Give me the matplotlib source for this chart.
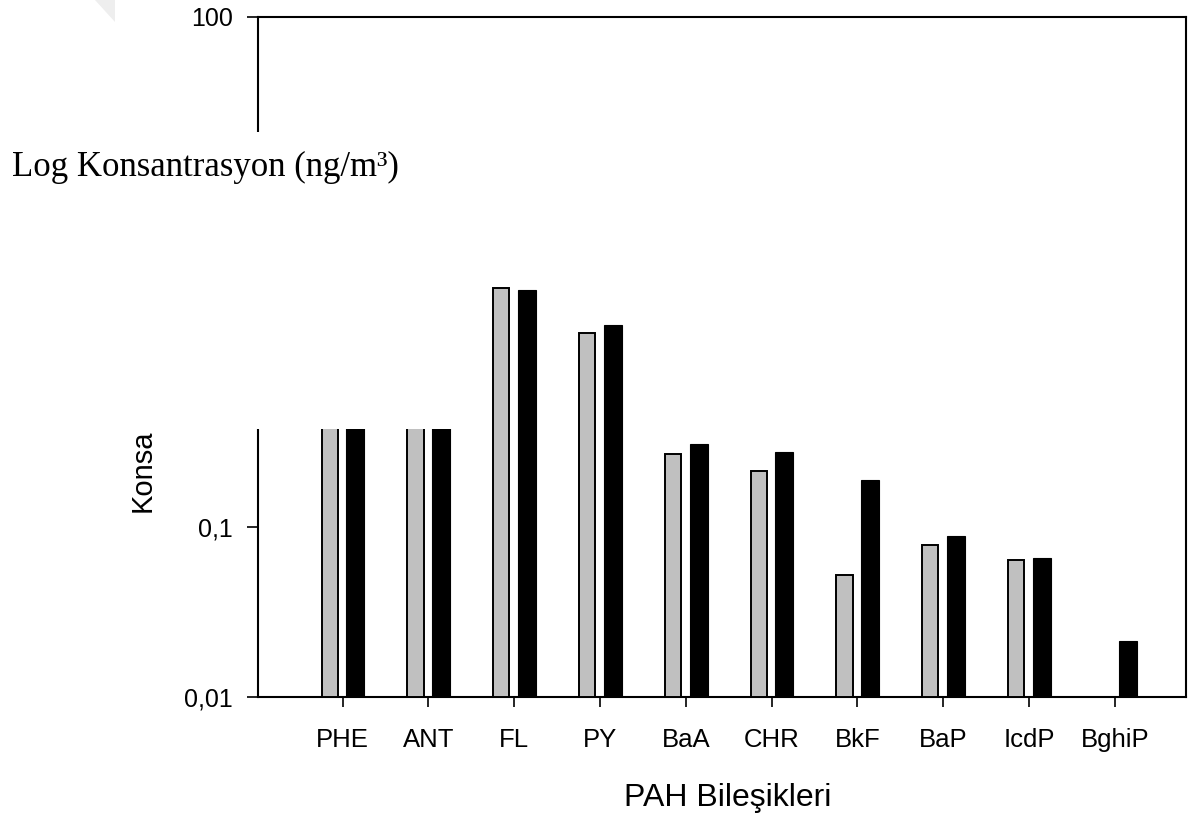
import matplotlib
matplotlib.use("Agg")
import matplotlib.pyplot as plt
from matplotlib.patches import Rectangle, Polygon
from matplotlib.ticker import FixedLocator, FuncFormatter
import numpy as np

compounds = ["PHE", "ANT", "FL", "PY", "BaA", "CHR", "BkF", "BaP", "IcdP", "BghiP"]
series_a = [2.2, 0.9, 2.55, 1.38, 0.268, 0.214, 0.052, 0.078, 0.064, 0.0]
series_b = [2.4, 1.0, 2.48, 1.54, 0.308, 0.276, 0.189, 0.0886, 0.0657, 0.0213]
y_ticks = [0.01, 0.1, 1, 10, 100]
y_ticklabels = ["0,01", "0,1", "", "", "100"]

W, H = 1202, 819
fig = plt.figure(figsize=(W / 100, H / 100), dpi=100)
fig.patch.set_facecolor("white")

ax = fig.add_axes([258 / W, 1 - 697 / H, (1186 - 258) / W, (697 - 17) / H])
ax.set_yscale("log")
ax.set_ylim(0.01, 100)
ax.set_xlim(-0.986, 9.83)

base = 0.01
x = np.arange(len(compounds))
bw = 0.19
off = 0.15
a_vals = np.array(series_a)
b_vals = np.array(series_b)
mask_a = a_vals > base
ax.bar(x[mask_a] - off, a_vals[mask_a] - base, width=bw, bottom=base,
       color="#c0c0c0", edgecolor="black", linewidth=1.4, zorder=3)
mask_b = b_vals > base
ax.bar(x[mask_b] + off, b_vals[mask_b] - base, width=bw + 0.02, bottom=base,
       color="black", edgecolor="black", linewidth=0.8, zorder=3)

for s in ax.spines.values():
    s.set_linewidth(1.5)
    s.set_color("black")

ax.yaxis.set_major_locator(FixedLocator(y_ticks))
ax.yaxis.set_minor_locator(FixedLocator([]))
ylab = dict(zip([round(v, 2) for v in y_ticks], y_ticklabels))
ax.yaxis.set_major_formatter(FuncFormatter(lambda v, p: ylab.get(round(v, 2), "")))
ax.tick_params(axis="y", direction="out", length=8, width=1.2, pad=10,
               labelsize=18, labelfontfamily="Liberation Sans")
ax.set_xticks(x)
ax.set_xticklabels(compounds, fontsize=18.5, fontfamily="Liberation Sans")
ax.tick_params(axis="x", direction="out", length=7, width=1.2, pad=15)

fig.text(728 / W, 1 - 798 / H, "PAH Bileşikleri", ha="center", va="center",
         fontsize=23, fontfamily="Liberation Sans")

# remnant of the rotated axis title below the white block
fig.text(143 / W, 1 - 512 / H, "Konsa", rotation=90,
         ha="center", va="bottom", fontsize=21, fontfamily="Liberation Sans")

# white block over the upper-left part of the plot
fig.add_artist(Rectangle((0, 1 - 429 / H), 475 / W, (429 - 132) / H,
                         transform=fig.transFigure, facecolor="white",
                         edgecolor="none", zorder=10))

fig.text(12 / W, 1 - 176 / H, "Log Konsantrasyon (ng/m³)", ha="left", va="baseline",
         fontsize=25, fontfamily="Liberation Serif", zorder=11)

# faint page-corner shading
fig.add_artist(Polygon([(95 / W, 1.0), (115 / W, 1.0), (115 / W, 1 - 22 / H)],
                       closed=True, transform=fig.transFigure,
                       facecolor="#eeeeee", edgecolor="none", zorder=12))

fig.savefig("out.png", dpi=100, facecolor="white")
